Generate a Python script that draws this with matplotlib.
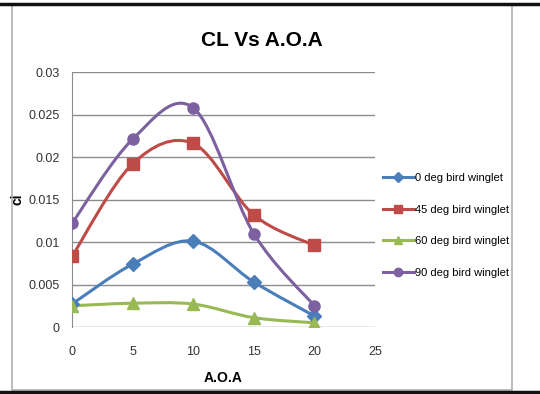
import numpy as np
import matplotlib.pyplot as plt
from matplotlib.path import Path
from matplotlib.patches import PathPatch, Rectangle
from matplotlib.lines import Line2D

plt.rcParams['font.family'] = ['Liberation Sans', 'DejaVu Sans']

# 数据
aoa = [0, 5, 10, 15, 20]
cl_0 = [0.0027, 0.0074, 0.0101, 0.0053, 0.0013]
cl_45 = [0.0083, 0.0192, 0.0216, 0.0132, 0.0096]
cl_60 = [0.0025, 0.0028, 0.0027, 0.0011, 0.0005]
cl_90 = [0.0122, 0.0221, 0.0258, 0.0110, 0.0025]
labels = ['0 deg bird winglet', '45 deg bird winglet', '60 deg bird winglet', '90 deg bird winglet']
colors = ['#4A7EBB', '#BE4B48', '#98B954', '#7D60A0']
markers = ['D', 's', '^', 'o']


def smooth_path(x, y):
    # Excel 风格的平滑曲线 (Catmull-Rom -> Bezier)
    x = np.asarray(x, float)
    y = np.asarray(y, float)
    px = np.concatenate([[x[0]], x, [x[-1]]])
    py = np.concatenate([[y[0]], y, [y[-1]]])
    verts = [(x[0], y[0])]
    codes = [Path.MOVETO]
    for i in range(1, len(px) - 2):
        c1 = (px[i] + (px[i + 1] - px[i - 1]) / 6, py[i] + (py[i + 1] - py[i - 1]) / 6)
        c2 = (px[i + 1] - (px[i + 2] - px[i]) / 6, py[i + 1] - (py[i + 2] - py[i]) / 6)
        verts += [c1, c2, (px[i + 1], py[i + 1])]
        codes += [Path.CURVE4] * 3
    return Path(verts, codes)


fig = plt.figure(figsize=(5.4, 3.94), dpi=100)
ax = fig.add_axes([0.1333, 0.170, 0.561, 0.647])

series = [cl_0, cl_45, cl_60, cl_90]
handles = []
for ys, lab, c, m in zip(series, labels, colors, markers):
    ax.add_patch(PathPatch(smooth_path(aoa, ys), facecolor='none', edgecolor=c, lw=2.2, zorder=3))
    ms = 7 if m == 'D' else 8
    ax.plot(aoa, ys, linestyle='none', marker=m, color=c, markersize=ms, zorder=4)
    handles.append(Line2D([], [], color=c, lw=2.2, marker=m, markersize=6 if m != 'D' else 5))

ax.set_xlim(0, 25)
ax.set_ylim(0, 0.03)
ax.set_xticks([0, 5, 10, 15, 20, 25])
ax.set_yticks([0, 0.005, 0.01, 0.015, 0.02, 0.025, 0.03])
ax.set_yticklabels(['0', '0.005', '0.01', '0.015', '0.02', '0.025', '0.03'])
ax.tick_params(length=0, labelsize=9, colors='#333333', pad=14)
ax.tick_params(axis='y', pad=9)
ax.grid(axis='y', color='#8c8c8c', lw=1)
ax.set_axisbelow(True)
for s in ['top', 'right', 'bottom']:
    ax.spines[s].set_visible(False)
ax.spines['left'].set_color('#8c8c8c')

ax.set_xlabel('A.O.A', fontsize=10, fontweight='bold', labelpad=9)
ax.set_ylabel('cl', fontsize=10, fontweight='bold', labelpad=3)
ax.set_title('CL Vs A.O.A', fontsize=15, fontweight='bold', pad=19, x=0.627)

fig.legend(handles, labels, loc='center left', bbox_to_anchor=(0.69, 0.428),
           frameon=False, fontsize=8, handlelength=2.8, handletextpad=0.1,
           labelspacing=1.95)

# 外框
fig.add_artist(Rectangle((12 / 540, 4 / 394), 500 / 540, 386 / 394, transform=fig.transFigure,
                         fill=False, edgecolor='#b0b0b0', lw=1.2))
fig.add_artist(Line2D([0, 1], [1 - 4 / 394, 1 - 4 / 394], transform=fig.transFigure, color='#111111', lw=2.5))
fig.add_artist(Line2D([0, 1], [2 / 394, 2 / 394], transform=fig.transFigure, color='#111111', lw=2.5))

fig.savefig('out.png', dpi=100)
